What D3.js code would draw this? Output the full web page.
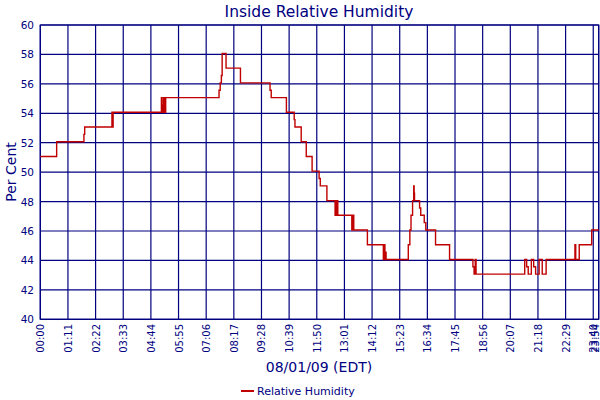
<!DOCTYPE html>
<html>
<head>
<meta charset="utf-8">
<script src="https://cdn.jsdelivr.net/npm/d3@7"></script>
<style>
  html, body { margin: 0; padding: 0; background: #fff; }
  svg { display: block; font-family: "DejaVu Sans", Verdana, sans-serif; }
</style>
</head>
<body>
<svg id="chart" width="600" height="400"></svg>
<script>
// ---- data ----
const titleText = "Inside Relative Humidity";
const yAxisTitle = "Per Cent";
const xAxisTitle = "08/01/09 (EDT)";
const seriesName = "Relative Humidity";

// step change times (minutes after midnight) and the value from that time on
const stepMinutes = [0, 42, 112, 114, 184, 185, 187, 311, 312, 314, 315, 316, 317, 319, 320, 322,
  459, 462, 465, 467, 477, 514, 590, 593, 632, 652, 654, 670, 683, 698, 716, 719, 736,
  757, 759, 761, 763, 764, 800, 802, 803, 804, 805, 840, 881, 883, 885, 886, 888,
  945, 949, 952, 956, 959, 960, 961, 974, 977, 986, 990, 1015, 1051,
  1111, 1114, 1117, 1119, 1244, 1249, 1253, 1261, 1267, 1272, 1281, 1289, 1299,
  1373, 1375, 1384, 1416, 1434];
const stepValues = [51, 52, 52.5, 53, 54, 53, 54, 55, 54, 54.5, 54, 55, 54, 55, 54, 55,
  55.5, 56, 56.5, 58, 57, 56, 55.5, 55, 54, 53.5, 53, 52, 51, 50, 49.5, 49, 48,
  47, 48, 47, 48, 47, 46, 47, 46, 47, 46, 45, 44, 45, 44, 44.5, 44,
  45, 46, 47, 48, 49, 48.5, 48, 47.5, 47, 46.5, 46, 45, 44,
  43.5, 43, 44, 43, 44, 43.5, 43, 44, 43.5, 43, 44, 43, 44,
  45, 44, 45, 46, 46];

const xTickMinutes = [0, 71, 142, 213, 284, 355, 426, 497, 568, 639, 710, 781, 852, 923, 994,
  1065, 1136, 1207, 1278, 1349, 1420, 1434];
const xTickLabels = ["00:00", "01:11", "02:22", "03:33", "04:44", "05:55", "07:06", "08:17",
  "09:28", "10:39", "11:50", "13:01", "14:12", "15:23", "16:34", "17:45", "18:56", "20:07",
  "21:18", "22:29", "23:40", "23:54"];
const yTicks = [40, 42, 44, 46, 48, 50, 52, 54, 56, 58, 60];

// ---- layout ----
const navy = "#000080";
const red = "#c00000";
const pLeft = 40.3, pRight = 598.7, pTop = 25, pBottom = 319.3;

const svg = d3.select("#chart");
const x = d3.scaleLinear().domain([0, 1434]).range([pLeft, pRight]);
const y = d3.scaleLinear().domain([40, 60]).range([pBottom, pTop]);

// grid
const g = svg.append("g");
g.selectAll("line.h").data(yTicks).join("line")
  .attr("x1", pLeft).attr("x2", pRight)
  .attr("y1", d => y(d)).attr("y2", d => y(d))
  .attr("stroke", navy).attr("stroke-width", 1.2);
g.selectAll("line.v").data(xTickMinutes).join("line")
  .attr("y1", pTop).attr("y2", pBottom)
  .attr("x1", d => x(d)).attr("x2", d => x(d))
  .attr("stroke", navy).attr("stroke-width", 1.2);
g.append("rect").attr("x", pLeft).attr("y", pTop)
  .attr("width", pRight - pLeft).attr("height", pBottom - pTop)
  .attr("fill", "none").attr("stroke", navy).attr("stroke-width", 1.2);

// y tick labels
svg.append("g").selectAll("text").data(yTicks).join("text")
  .attr("x", 34).attr("y", d => y(d) + 4)
  .attr("text-anchor", "end")
  .attr("font-size", 10.5).attr("fill", navy)
  .text(d => d);

// x tick labels
const xLabels = xTickMinutes.map((m, i) => ({m, t: xTickLabels[i]}));
svg.append("g").selectAll("text").data(xLabels).join("text")
  .attr("transform", d => `translate(${Math.min(x(d.m) + 4, 598.5)},324) rotate(-90)`)
  .attr("text-anchor", "end")
  .attr("font-size", 10).attr("fill", navy)
  .text(d => d.t);

// series
const data = stepMinutes.map((m, i) => ({m, v: stepValues[i]}));
const line = d3.line().x(d => x(d.m)).y(d => y(d.v) - 1).curve(d3.curveStepAfter);
svg.append("path").datum(data)
  .attr("d", line)
  .attr("fill", "none").attr("stroke", red).attr("stroke-width", 1.4);

// titles
svg.append("text").attr("x", 319).attr("y", 17)
  .attr("text-anchor", "middle").attr("font-size", 15.5).attr("fill", navy)
  .text(titleText);
svg.append("text").attr("transform", "translate(16,172) rotate(-90)")
  .attr("text-anchor", "middle").attr("font-size", 14).attr("fill", navy)
  .text(yAxisTitle);
svg.append("text").attr("x", 319).attr("y", 372)
  .attr("text-anchor", "middle").attr("font-size", 14).attr("fill", navy)
  .text(xAxisTitle);

// legend
svg.append("line").attr("x1", 241).attr("x2", 254).attr("y1", 391).attr("y2", 391)
  .attr("stroke", red).attr("stroke-width", 2);
svg.append("text").attr("x", 257).attr("y", 395)
  .attr("font-size", 11).attr("fill", navy)
  .text(seriesName);
</script>
</body>
</html>
